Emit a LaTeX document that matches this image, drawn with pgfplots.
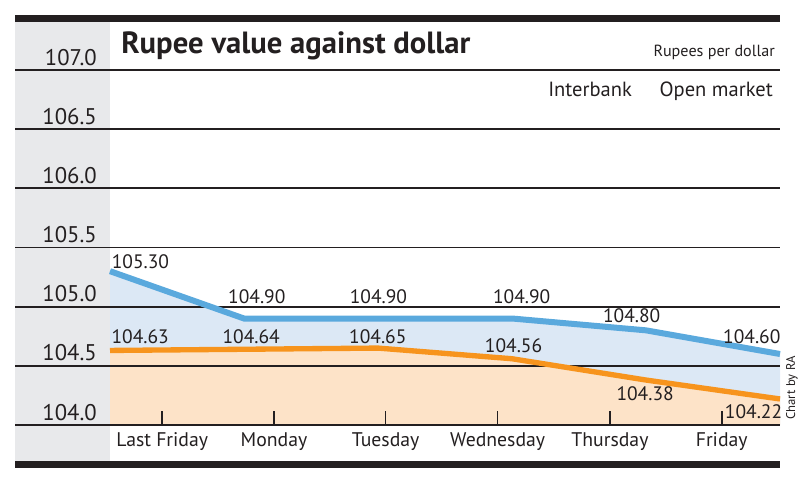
\documentclass[border=0pt]{standalone}
\usepackage{pgfplots}
\pgfplotsset{compat=1.18}
\usepackage{fontspec}
\setmainfont{PT Sans}
\definecolor{barblack}{HTML}{231F20}
\definecolor{panelgray}{HTML}{E8E9EB}
\definecolor{blueline}{HTML}{5AA9DD}
\definecolor{bluefill}{HTML}{DCE8F5}
\definecolor{orangeline}{HTML}{F7941D}
\definecolor{orangefill}{HTML}{FDE3C8}
\newcommand{\lab}{\fontsize{14.6}{16}\selectfont}
\newcommand{\xlab}{\fontsize{14.8}{16}\selectfont}
\begin{document}
\begin{tikzpicture}
\begin{scope}[x=0.75pt,y=-0.75pt,yshift=360pt]
  \fill[panelgray] (15,22) rectangle (110,462);
  \fill[barblack] (15,15) rectangle (780,22);
  \fill[barblack] (15,461) rectangle (780,468);
  \node[anchor=base west, inner sep=0pt, font=\bfseries\fontsize{23}{26}\selectfont, text=barblack] at (121,53.3) {Rupee value against dollar};
  \node[anchor=base east, inner sep=0pt, font=\fontsize{12.1}{14}\selectfont, text=barblack] at (775,56.5) {Rupees per dollar};
  \node[anchor=base west, inner sep=0pt, font=\fontsize{15.4}{17}\selectfont, text=barblack] at (548,96.7) {Interbank};
  \node[anchor=base east, inner sep=0pt, font=\fontsize{15.4}{17}\selectfont, text=barblack] at (773,96.7) {Open market};
  \node[anchor=base west, inner sep=0pt, rotate=90, font=\fontsize{9.5}{11}\selectfont, text=barblack] at (795,420) {Chart by RA};
\end{scope}
\begin{axis}[
  at={(11.25pt,41.25pt)}, anchor=south west,
  scale only axis, width=573.75pt, height=266.25pt,
  xmin=-0.70896, xmax=5, ymin=104, ymax=107,
  clip=false, axis on top,
  axis x line*=bottom, axis y line=none,
  axis line style={-, line width=1.4pt, color=barblack},
  xtick={0.390,1.224,2.057,2.893,3.731,4.565},
  xticklabels={Last Friday,Monday,Tuesday,Wednesday,Thursday,Friday},
  tick align=inside, major tick length=10.5pt,
  xtick style={line width=1.2pt, color=barblack},
  xticklabel style={anchor=base, yshift=-16.3pt, inner sep=0pt, font=\xlab, text=barblack},
  ytick=\empty,
]
\addplot[fill=bluefill, draw=none] coordinates {(0,105.30) (1,104.90) (2,104.90) (3,104.90) (4,104.80) (5,104.60)} \closedcycle;
\addplot[fill=orangefill, draw=none] coordinates {(0,104.63) (1,104.64) (2,104.65) (3,104.56) (4,104.38) (5,104.22)} \closedcycle;
\draw[barblack, line width=1.4pt] (axis cs:-0.70896,104.5) -- (axis cs:5,104.5);
\draw[barblack, line width=1.4pt] (axis cs:-0.70896,105.0) -- (axis cs:5,105.0);
\draw[barblack, line width=1.4pt] (axis cs:-0.70896,105.5) -- (axis cs:5,105.5);
\draw[barblack, line width=1.4pt] (axis cs:-0.70896,106.0) -- (axis cs:5,106.0);
\draw[barblack, line width=1.4pt] (axis cs:-0.70896,106.5) -- (axis cs:5,106.5);
\draw[barblack, line width=1.4pt] (axis cs:-0.70896,107.0) -- (axis cs:5,107.0);
\addplot[blueline, line width=4.5pt] coordinates {(0,105.30) (1,104.90) (2,104.90) (3,104.90) (4,104.80) (5,104.60)};
\addplot[orangeline, line width=4pt] coordinates {(0,104.63) (1,104.64) (2,104.65) (3,104.56) (4,104.38) (5,104.22)};
% y labels
\begin{scope}[every node/.style={anchor=base east, inner sep=0pt, font=\fontsize{17}{19}\selectfont, text=barblack}]
\node at (axis cs:-0.097,104.042) {104.0};
\node at (axis cs:-0.097,104.542) {104.5};
\node at (axis cs:-0.097,105.042) {105.0};
\node at (axis cs:-0.097,105.542) {105.5};
\node at (axis cs:-0.097,106.042) {106.0};
\node at (axis cs:-0.097,106.542) {106.5};
\node at (axis cs:-0.097,107.042) {107.0};
\end{scope}
% value labels
\begin{scope}[every node/.style={anchor=base west, inner sep=0pt, font=\lab, text=barblack}]
\node at (axis cs:0.012,105.324) {105.30};
\node at (axis cs:0.880,105.028) {104.90};
\node at (axis cs:1.788,105.028) {104.90};
\node at (axis cs:2.857,105.023) {104.90};
\node at (axis cs:3.678,104.865) {104.80};
\node at (axis cs:4.574,104.690) {104.60};
\node at (axis cs:0.010,104.690) {104.63};
\node at (axis cs:0.838,104.690) {104.64};
\node at (axis cs:1.783,104.690) {104.65};
\node at (axis cs:2.796,104.614) {104.56};
\node at (axis cs:3.778,104.211) {104.38};
\node at (axis cs:4.587,104.057) {104.22};
\end{scope}
\end{axis}
\begin{scope}[x=0.75pt,y=0.75pt]
  \pgfresetboundingbox
  \path[use as bounding box] (0,0) rectangle (800,480);
\end{scope}
\end{tikzpicture}
\end{document}
